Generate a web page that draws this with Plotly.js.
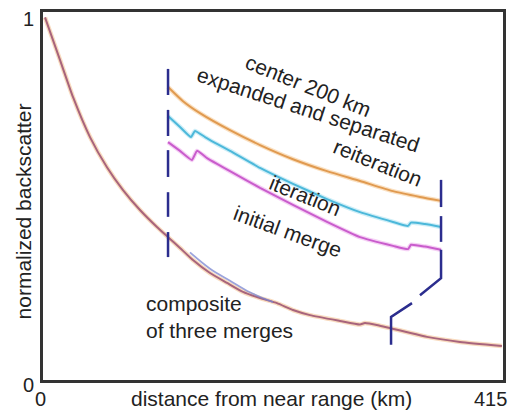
<!DOCTYPE html>
<html>
<head>
<meta charset="utf-8">
<script src="https://cdn.plot.ly/plotly-3.0.1.min.js"></script>
<style>
  html, body { margin: 0; padding: 0; background: #ffffff; }
  #chart { width: 520px; height: 411px; }
</style>
</head>
<body>
<div id="chart"></div>
<script>
// Composite profile of the three merges (distance km, normalized backscatter)
const compositeKm  = [1.8, 15.3, 27.1, 42.4, 57.7, 72.2, 87.5, 102.8, 112.8, 123.6, 135.3, 150.7, 166.0, 180.4, 195.8, 211.1, 225.5, 240.9, 267.9, 285.9, 290.4, 302.2, 313.0, 346.4, 376.2, 414.0];
const compositeVal = [1.000, 0.883, 0.780, 0.670, 0.587, 0.524, 0.469, 0.422, 0.394, 0.364, 0.331, 0.295, 0.268, 0.243, 0.226, 0.212, 0.193, 0.179, 0.163, 0.153, 0.157, 0.151, 0.143, 0.119, 0.105, 0.094];

// Short bluish stretch lying on the composite
const overlapKm  = [132.6, 150.7, 168.7, 186.7, 207.5];
const overlapVal = [0.352, 0.307, 0.274, 0.242, 0.215];

// Center 200 km, expanded and separated
const reiterKm  = [112.8, 126.3, 141.6, 168.7, 195.8, 225.5, 256.2, 286.0, 315.8, 340.1, 359.1];
const reiterVal = [0.808, 0.769, 0.736, 0.689, 0.648, 0.609, 0.576, 0.549, 0.521, 0.505, 0.494];

const iterKm  = [112.8, 123.6, 133.5, 137.1, 146.2, 157.0, 168.7, 195.8, 225.5, 256.2, 286.0, 315.8, 329.3, 332.0, 344.6, 359.1];
const iterVal = [0.728, 0.698, 0.670, 0.687, 0.670, 0.651, 0.632, 0.585, 0.541, 0.499, 0.463, 0.436, 0.425, 0.434, 0.430, 0.422];

const initKm  = [112.8, 123.6, 134.4, 138.9, 148.0, 157.0, 168.7, 195.8, 225.5, 256.2, 286.0, 315.8, 329.3, 332.0, 344.6, 359.1];
const initVal = [0.656, 0.632, 0.607, 0.632, 0.612, 0.596, 0.576, 0.530, 0.483, 0.436, 0.394, 0.370, 0.361, 0.373, 0.368, 0.359];

// Bracket marking the 200 km window (dashed, gaps given as nulls)
const leftBracketKm  = [112.8, 112.8, null, 112.8, 112.8, null, 112.8, 112.8, null, 112.8, 112.8, null, 112.8, 112.8];
const leftBracketVal = [0.858, 0.786, null, 0.745, 0.673, null, 0.634, 0.560, null, 0.518, 0.450, null, 0.408, 0.339];
const rightBracketKm  = [359.1, 359.1, null, 359.1, 359.1, null, 359.1, 359.1, 340.1, null, 332.9, 314.0, 314.0];
const rightBracketVal = [0.552, 0.477, null, 0.452, 0.381, null, 0.359, 0.281, 0.234, null, 0.212, 0.174, 0.097];

// Axis ticks
const xTicks = [0, 415];
const xTickText = ['0', '415'];
const yTicks = [0, 1];
const yTickText = ['0', '1'];

const FONT = 'Liberation Sans, Arial, Helvetica, sans-serif';
const INK = '#222222';
const BRACKET = '#2b2d8e';

function glowLine(x, y, core, glow, wCore, wGlow, glowOpacity, smooth) {
  return [
    { x: x, y: y, mode: 'lines', type: 'scatter', hoverinfo: 'skip',
      line: { color: glow, width: wGlow, shape: 'spline', smoothing: smooth }, opacity: glowOpacity },
    { x: x, y: y, mode: 'lines', type: 'scatter', hoverinfo: 'skip',
      line: { color: core, width: wCore, shape: 'spline', smoothing: smooth } }
  ];
}

const traces = [].concat(
  glowLine(compositeKm, compositeVal, '#a8647c', '#f0b070', 2, 4.5, 0.45, 0.5),
  [{ x: overlapKm, y: overlapVal, mode: 'lines', type: 'scatter', hoverinfo: 'skip',
     line: { color: '#7a86d0', width: 1.8, shape: 'spline' }, opacity: 0.75 }],
  glowLine(reiterKm, reiterVal, '#e09a50', '#f6cc98', 2, 4.5, 0.6, 0.6),
  glowLine(iterKm, iterVal, '#4cb8da', '#aee2f2', 2, 4.5, 0.6, 0.4),
  glowLine(initKm, initVal, '#c95ccc', '#eeb0ee', 2, 4.5, 0.6, 0.4),
  [
    { x: leftBracketKm, y: leftBracketVal, mode: 'lines', type: 'scatter', hoverinfo: 'skip',
      connectgaps: false, line: { color: BRACKET, width: 2.5 } },
    { x: rightBracketKm, y: rightBracketVal, mode: 'lines', type: 'scatter', hoverinfo: 'skip',
      connectgaps: false, line: { color: BRACKET, width: 2.5 } }
  ]
);

const annotations = [];
const xTickShift = [-3, -13];
xTicks.forEach(function (v, i) {
  annotations.push({ text: xTickText[i], x: v, xref: 'x', y: 0, yref: 'paper',
    xanchor: 'center', yanchor: 'middle', xshift: xTickShift[i], yshift: -19,
    font: { size: 20 }, showarrow: false });
});
const yTickShift = [-5, -2];
yTicks.forEach(function (v, i) {
  annotations.push({ text: yTickText[i], x: 0, xref: 'paper', y: v, yref: 'y',
    xanchor: 'center', yanchor: 'middle', xshift: -15, yshift: yTickShift[i],
    font: { size: 20 }, showarrow: false });
});

annotations.push(
  { text: 'distance from near range (km)', xref: 'paper', yref: 'paper', x: 0.4978, y: -0.0516,
    xanchor: 'center', yanchor: 'middle', showarrow: false },
  { text: 'normalized backscatter', xref: 'paper', yref: 'paper', x: -0.0435, y: 0.458,
    xanchor: 'center', yanchor: 'middle', textangle: -90, showarrow: false },
  { text: 'center 200 km', xref: 'paper', yref: 'paper', x: 0.5761, y: 0.8016,
    xanchor: 'center', yanchor: 'middle', textangle: 22, showarrow: false },
  { text: 'expanded and separated', xref: 'paper', yref: 'paper', x: 0.5761, y: 0.7337,
    xanchor: 'center', yanchor: 'middle', textangle: 18, showarrow: false },
  { text: 'reiteration', xref: 'paper', yref: 'paper', x: 0.7261, y: 0.590,
    xanchor: 'center', yanchor: 'middle', textangle: 22, showarrow: false },
  { text: 'iteration', xref: 'paper', yref: 'paper', x: 0.5696, y: 0.5027,
    xanchor: 'center', yanchor: 'middle', textangle: 22, showarrow: false },
  { text: 'initial merge', xref: 'paper', yref: 'paper', x: 0.5326, y: 0.4022,
    xanchor: 'center', yanchor: 'middle', textangle: 20, showarrow: false },
  { text: 'composite<br>of three merges', xref: 'paper', yref: 'paper', x: 0.2196, y: 0.1712,
    xanchor: 'left', yanchor: 'middle', align: 'left', showarrow: false }
);

const axisBase = {
  showgrid: false, zeroline: false, showline: true, mirror: true,
  linecolor: '#333333', linewidth: 3, ticks: '', showticklabels: false, fixedrange: true
};

const layout = {
  width: 520, height: 411,
  margin: { l: 43, r: 17, t: 12, b: 31, pad: 0 },
  paper_bgcolor: '#ffffff', plot_bgcolor: '#ffffff',
  showlegend: false,
  font: { family: FONT, size: 21, color: INK },
  xaxis: Object.assign({}, axisBase, { range: [0, 415] }),
  yaxis: Object.assign({}, axisBase, { range: [0, 1.015] }),
  annotations: annotations
};

Plotly.newPlot('chart', traces, layout, { staticPlot: true, displayModeBar: false });
</script>
</body>
</html>
